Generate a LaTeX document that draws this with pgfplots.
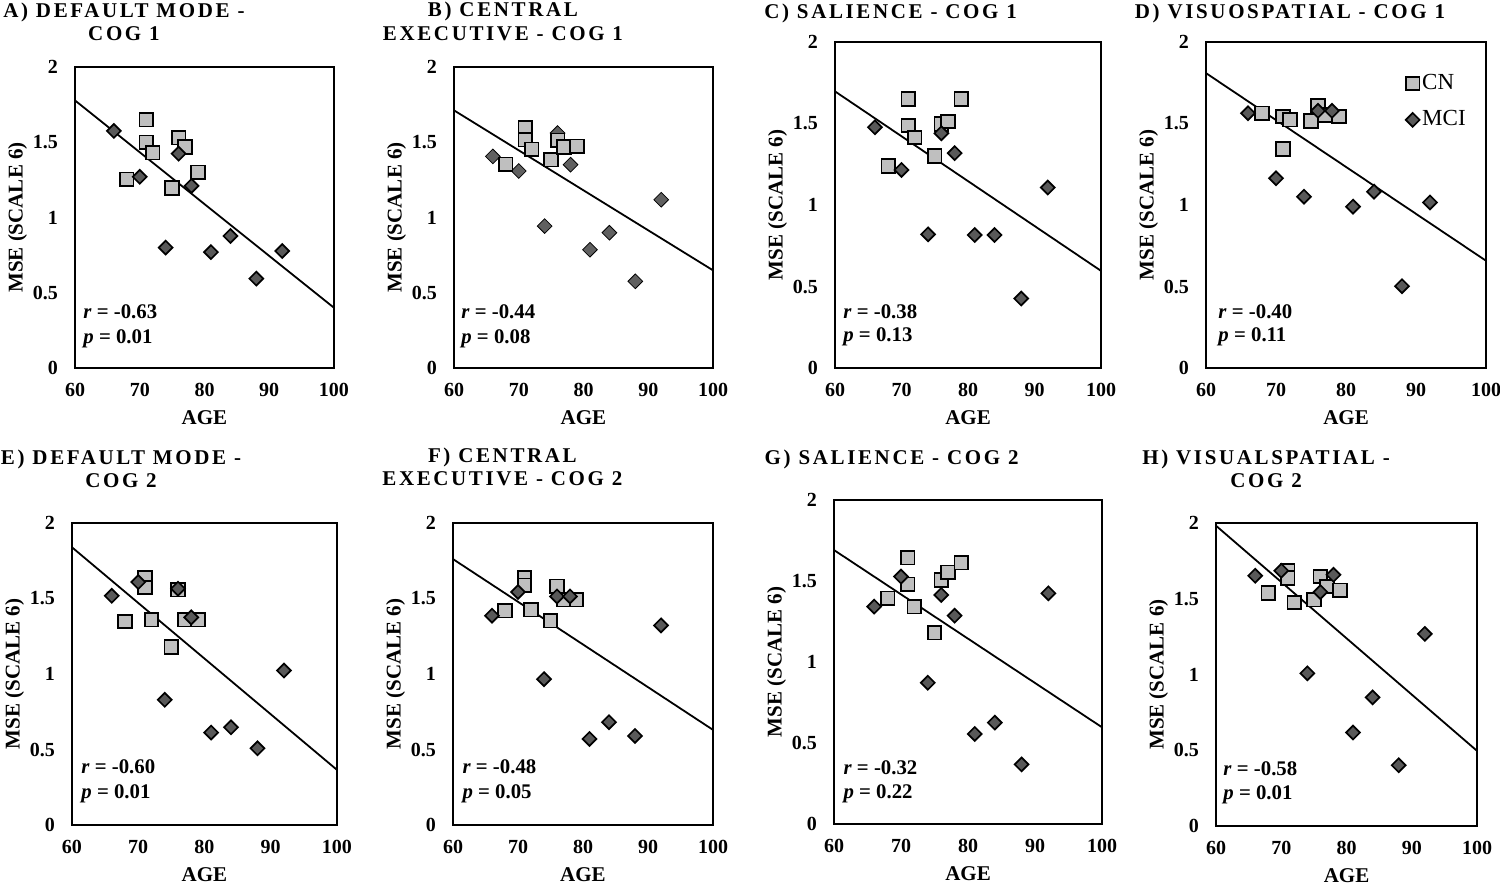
\documentclass[border=0pt]{standalone}
\usepackage{pgfplots}
\pgfplotsset{compat=1.18}
\usepackage{fontspec}
\setmainfont{Liberation Serif}
\newfontfamily\titlefamily[LetterSpace=12.5]{Liberation Serif}
\definecolor{cnfill}{HTML}{BFBFBF}
\definecolor{mcifill}{HTML}{595959}
\definecolor{mcib}{HTML}{606060}
\tikzset{stat/.style={anchor=base west, inner sep=0pt, font=\fontsize{10.4}{12}\selectfont\bfseries}}
\pgfplotsset{
  every axis title shift=0pt,
  panel/.style={
    scale only axis, anchor=south west,
    xmin=60, xmax=100, ymin=0, ymax=2,
    xtick={60,70,80,90,100}, ytick={0,0.5,1,1.5,2},
    major tick length=0pt,
    xticklabel shift=4.0pt, yticklabel shift=5.0pt,
    tick label style={font=\fontsize{10}{11}\selectfont\bfseries},
    /pgf/number format/assume math mode=true,
    xlabel={AGE}, ylabel={MSE (SCALE 6)},
    ylabel shift=-4pt,
    label style={font=\fontsize{10.5}{12}\selectfont\bfseries},
    axis line style={line width=0.8pt},
    title style={anchor=north, align=center, inner sep=0pt, yshift=0pt,
      font=\titlefamily\bfseries\fontsize{10.5}{11.7}\selectfont},
  },
  cn/.style={only marks, mark=square*, mark size=3.4pt,
    mark options={fill=cnfill, draw=black, line width=0.85pt}},
  mci/.style={only marks, mark=square*, mark size=2.45pt,
    mark options={rotate=45, fill=mcifill, draw=black, line width=0.85pt}},
  mcib/.style={only marks, mark=square*, mark size=2.6pt,
    mark options={rotate=45, fill=mcib, draw=none}},
  fit/.style={black, line width=0.9pt, no marks},
}
\begin{document}
\begin{tikzpicture}
\useasboundingbox (0,0) rectangle (750pt,442pt);
% ---------------- A
\begin{axis}[panel, at={(37.5pt,258pt)}, width=129.5pt, height=150.5pt,
  title={A) DEFAULT MODE -\\COG 1}, title style={at={(0.189,1.214)}}]
\addplot[cn] coordinates {(68,1.254)(71,1.65)(71,1.50)(72,1.43)(75,1.196)(76,1.53)(77,1.468)(79,1.30)};
\addplot[mci] coordinates {(66,1.575)(70,1.27)(74,0.80)(76,1.424)(78,1.21)(81,0.77)(84,0.877)(88,0.594)(92,0.777)};
\addplot[fit] coordinates {(60,1.778)(100,0.40)};
\node[stat] at (rel axis cs:0.031,0.163) {\textit{r} = -0.63};
\node[stat] at (rel axis cs:0.031,0.083) {\textit{p} = 0.01};
\end{axis}
% ---------------- B
\begin{axis}[panel, at={(227pt,258pt)}, width=129.5pt, height=150.5pt,
  title={B) CENTRAL\\EXECUTIVE - COG 1}, title style={at={(0.189,1.216)}}]
\addplot[fit] coordinates {(60,1.712)(100,0.649)};
\addplot[mcib] coordinates {(66,1.406)(70,1.309)(74,0.943)(76,1.561)(78,1.351)(81,0.786)(84,0.899)(88,0.576)(92,1.118)};
\addplot[cn] coordinates {(68,1.353)(71,1.595)(71,1.517)(72,1.453)(75,1.384)(76,1.513)(77,1.468)(79,1.473)};
\node[stat] at (rel axis cs:0.027,0.166) {\textit{r} = -0.44};
\node[stat] at (rel axis cs:0.027,0.083) {\textit{p} = 0.08};
\end{axis}
% ---------------- C
\begin{axis}[panel, at={(417.5pt,258pt)}, width=133pt, height=163pt,
  title={C) SALIENCE - COG 1}, title style={at={(0.209,1.118)}}]
\addplot[cn] coordinates {(68,1.24)(71,1.65)(71,1.488)(72,1.414)(75,1.30)(76,1.496)(77,1.512)(79,1.65)};
\addplot[mci] coordinates {(66,1.477)(70,1.215)(74,0.82)(76,1.44)(78,1.318)(81,0.816)(84,0.816)(88,0.426)(92,1.107)};
\addplot[fit] coordinates {(60,1.697)(100,0.596)};
\node[stat] at (rel axis cs:0.030,0.153) {\textit{r} = -0.38};
\node[stat] at (rel axis cs:0.030,0.080) {\textit{p} = 0.13};
\end{axis}
% ---------------- D
\begin{axis}[panel, at={(603pt,258pt)}, width=140pt, height=163pt,
  title={D) VISUOSPATIAL - COG 1}, title style={at={(0.30,1.118)}},
  legend style={at={(0.712,0.91)}, anchor=north west, draw=none, fill=none,
    inner sep=0pt, row sep=6.5pt, nodes={inner sep=1.3pt},
    font=\fontsize{11.5}{13}\selectfont},
  legend cell align=left,
  legend image code/.code={\draw[#1] plot coordinates {(0.13cm,0cm)};}]
\addplot[cn] coordinates {(68,1.563)(71,1.543)(71,1.344)(72,1.523)(75,1.516)(76,1.609)(77,1.553)(79,1.543)};
\addlegendentry{CN}
\addplot[mci] coordinates {(66,1.563)(70,1.164)(74,1.051)(76,1.578)(78,1.578)(81,0.99)(84,1.082)(88,0.502)(92,1.016)};
\addlegendentry{MCI}
\addplot[fit, forget plot] coordinates {(60,1.809)(100,0.658)};
\node[stat] at (rel axis cs:0.043,0.153) {\textit{r} = -0.40};
\node[stat] at (rel axis cs:0.043,0.080) {\textit{p} = 0.11};
\end{axis}
% ---------------- E
\begin{axis}[panel, at={(36pt,29.5pt)}, width=132.5pt, height=151pt,
  title={E) DEFAULT MODE -\\COG 2}, title style={at={(0.185,1.243)}}]
\addplot[cn] coordinates {(68,1.348)(71,1.635)(71,1.573)(72,1.359)(75,1.178)(76,1.558)(77,1.359)(79,1.359)};
\addplot[mci] coordinates {(66,1.518)(70,1.609)(74,0.829)(76,1.565)(78,1.375)(81,0.612)(84,0.647)(88,0.508)(92,1.023)};
\addplot[fit] coordinates {(60,1.839)(100,0.365)};
\node[stat] at (rel axis cs:0.034,0.169) {\textit{r} = -0.60};
\node[stat] at (rel axis cs:0.034,0.089) {\textit{p} = 0.01};
\end{axis}
% ---------------- F
\begin{axis}[panel, at={(226.5pt,29.5pt)}, width=130pt, height=151pt,
  title={F) CENTRAL\\EXECUTIVE - COG 2}, title style={at={(0.19,1.25)}}]
\addplot[cn] coordinates {(68,1.419)(71,1.635)(71,1.587)(72,1.425)(75,1.352)(76,1.58)(77,1.492)(79,1.492)};
\addplot[mci] coordinates {(66,1.386)(70,1.543)(74,0.966)(76,1.514)(78,1.514)(81,0.570)(84,0.681)(88,0.59)(92,1.322)};
\addplot[fit] coordinates {(60,1.761)(100,0.630)};
\node[stat] at (rel axis cs:0.035,0.169) {\textit{r} = -0.48};
\node[stat] at (rel axis cs:0.035,0.089) {\textit{p} = 0.05};
\end{axis}
% ---------------- G
\begin{axis}[panel, at={(417pt,30pt)}, width=134pt, height=162pt,
  title={G) SALIENCE - COG 2}, title style={at={(0.215,1.156)}}]
\addplot[cn] coordinates {(68,1.393)(71,1.644)(71,1.479)(72,1.342)(75,1.181)(76,1.506)(77,1.553)(79,1.613)};
\addplot[mci] coordinates {(66,1.342)(70,1.527)(74,0.872)(76,1.414)(78,1.286)(81,0.556)(84,0.626)(88,0.368)(92,1.424)};
\addplot[fit] coordinates {(60,1.691)(100,0.597)};
\node[stat] at (rel axis cs:0.034,0.154) {\textit{r} = -0.32};
\node[stat] at (rel axis cs:0.034,0.080) {\textit{p} = 0.22};
\end{axis}
% ---------------- H
\begin{axis}[panel, at={(608pt,29pt)}, width=130.5pt, height=151.5pt,
  title={H) VISUALSPATIAL -\\COG 2}, title style={at={(0.192,1.243)}}]
\addplot[cn] coordinates {(68,1.537)(71,1.685)(71,1.636)(72,1.475)(75,1.493)(76,1.647)(77,1.581)(79,1.555)};
\addplot[mci] coordinates {(66,1.652)(70,1.685)(74,1.008)(76,1.544)(78,1.658)(81,0.617)(84,0.849)(88,0.401)(92,1.268)};
\addplot[fit] coordinates {(60,1.982)(100,0.496)};
\node[stat] at (rel axis cs:0.027,0.168) {\textit{r} = -0.58};
\node[stat] at (rel axis cs:0.027,0.089) {\textit{p} = 0.01};
\end{axis}
\end{tikzpicture}
\end{document}
